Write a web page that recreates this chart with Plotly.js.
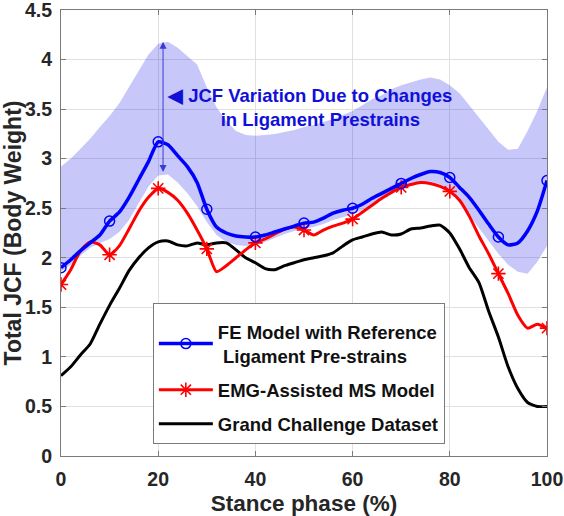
<!DOCTYPE html>
<html><head><meta charset="utf-8">
<script src="https://cdn.plot.ly/plotly-3.0.1.min.js"></script>
<style>html,body{margin:0;padding:0;background:#fff}#chart{width:564px;height:516px}</style>
</head><body><div id="chart"></div>
<script>
// Stance phase (%) sampled every 2 %
const stance = [0,2,4,6,8,10,12,14,16,18,20,22,24,26,28,30,32,34,36,38,40,42,44,46,48,50,52,54,56,58,60,62,64,66,68,70,72,74,76,78,80,82,84,86,88,90,92,94,96,98,100];
// FE Model with Reference Ligament Pre-strains
const feModel = [1.90,1.98,2.07,2.15,2.23,2.37,2.46,2.61,2.79,2.97,3.17,3.14,3.03,2.92,2.76,2.49,2.31,2.25,2.22,2.21,2.21,2.23,2.26,2.29,2.32,2.35,2.36,2.40,2.45,2.48,2.50,2.54,2.60,2.65,2.70,2.75,2.80,2.84,2.87,2.86,2.81,2.71,2.61,2.48,2.34,2.21,2.13,2.15,2.27,2.47,2.78];
// EMG-Assisted MS Model
const emgModel = [1.73,1.88,2.07,2.16,2.13,2.03,2.12,2.29,2.47,2.61,2.70,2.66,2.58,2.45,2.28,2.09,1.86,1.92,2.00,2.08,2.15,2.19,2.24,2.29,2.31,2.28,2.23,2.28,2.32,2.35,2.39,2.46,2.53,2.60,2.66,2.71,2.74,2.76,2.75,2.72,2.67,2.58,2.42,2.22,2.04,1.84,1.64,1.42,1.29,1.33,1.29];
// Grand Challenge Dataset
const grandChallenge = [0.81,0.90,1.02,1.13,1.33,1.52,1.69,1.87,2.00,2.10,2.16,2.17,2.13,2.12,2.15,2.13,2.15,2.15,2.08,2.00,1.95,1.89,1.88,1.92,1.95,1.98,2.00,2.02,2.05,2.12,2.18,2.21,2.24,2.26,2.23,2.24,2.29,2.30,2.32,2.33,2.25,2.09,1.90,1.75,1.46,1.20,0.90,0.68,0.54,0.50,0.50];
// JCF variation due to ligament prestrains (band)
const bandLower = [1.86,1.93,2.02,2.10,2.15,2.19,2.26,2.38,2.55,2.72,2.83,2.84,2.76,2.65,2.52,2.36,2.23,2.16,2.13,2.12,2.13,2.16,2.20,2.24,2.27,2.29,2.31,2.34,2.38,2.41,2.44,2.48,2.53,2.58,2.64,2.70,2.74,2.76,2.77,2.74,2.66,2.56,2.43,2.30,2.16,2.04,1.93,1.86,1.84,1.96,2.12];
const bandUpper = [2.92,3.00,3.10,3.20,3.32,3.43,3.56,3.72,3.88,4.05,4.16,4.18,4.12,4.03,3.95,3.72,3.52,3.38,3.28,3.24,3.23,3.24,3.25,3.27,3.29,3.32,3.34,3.37,3.40,3.44,3.48,3.54,3.60,3.64,3.70,3.74,3.77,3.80,3.82,3.80,3.74,3.66,3.54,3.42,3.29,3.17,3.09,3.10,3.28,3.48,3.72];
const xTicks = [0,20,40,60,80,100];
const yTicks = [0,0.5,1,1.5,2,2.5,3,3.5,4,4.5];
const seriesNames = ['FE Model with Reference<br> Ligament Pre-strains','EMG-Assisted MS Model','Grand Challenge Dataset'];
const markerStep = 10;
const arrowX = 21, arrowLow = 2.85, arrowHigh = 4.18;
const noteText = '\u25C0 JCF Variation Due to Changes<br>\u00a0\u00a0\u00a0\u00a0in Ligament Prestrains';
const noteX = 51.2, noteY = 3.52;

const pick = arr => arr.filter((v, i) => stance[i] % markerStep === 0);
const markX = pick(stance);

const FONT = 'Liberation Sans, Arial, Helvetica, sans-serif';
const BLUE = '#0000ff', RED = '#ff0000', BLACK = '#000000';

const traces = [
  {x: stance, y: bandLower, mode: 'lines', line: {width: 0, color: 'rgba(0,0,0,0)'}, showlegend: false, hoverinfo: 'skip'},
  {x: stance, y: bandUpper, mode: 'lines', fill: 'tonexty', fillcolor: 'rgba(0,0,230,0.22)', line: {width: 0, color: 'rgba(0,0,0,0)'}, showlegend: false, hoverinfo: 'skip'},
  {x: stance, y: grandChallenge, mode: 'lines', name: seriesNames[2], line: {color: BLACK, width: 3, shape: 'spline', smoothing: 0.6}, legendrank: 3, legendgroup: 'g3'},
  {x: stance, y: emgModel, mode: 'lines', line: {color: RED, width: 3, shape: 'spline', smoothing: 0.6}, showlegend: false},
  {x: markX, y: pick(emgModel), mode: 'markers', marker: {symbol: 'asterisk-open', size: 12, color: RED, line: {color: RED, width: 1.6}}, showlegend: false},
  {x: stance, y: feModel, mode: 'lines', line: {color: BLUE, width: 3.5, shape: 'spline', smoothing: 0.6}, showlegend: false},
  {x: markX, y: pick(feModel), mode: 'markers', marker: {symbol: 'circle-open', size: 10, color: BLUE, line: {color: BLUE, width: 1.5}}, showlegend: false},
  {x: [null], y: [null], mode: 'lines+markers', name: seriesNames[0], line: {color: BLUE, width: 3.5}, marker: {symbol: 'circle-open', size: 10, color: BLUE, line: {color: BLUE, width: 1.5}}, legendrank: 1, legendgroup: 'g1'},
  {x: [null], y: [null], mode: 'lines+markers', name: seriesNames[1], line: {color: RED, width: 3}, marker: {symbol: 'asterisk-open', size: 12, color: RED, line: {color: RED, width: 1.6}}, legendrank: 2, legendgroup: 'g2'}
];

const axisCommon = {
  showline: true, linecolor: '#7a7a7a', linewidth: 1, mirror: 'ticks',
  ticks: 'inside', ticklen: 5, tickcolor: '#7a7a7a', tickwidth: 1,
  showgrid: true, gridcolor: '#e0e0e0', gridwidth: 1, zeroline: false,
  ticklabeloverflow: 'allow',
  tickfont: {family: FONT, size: 19.5, color: '#262626', weight: 'bold'}
};

const layout = {
  width: 564, height: 516,
  margin: {l: 61, r: 17, t: 10, b: 60},
  paper_bgcolor: '#ffffff', plot_bgcolor: '#ffffff',
  showlegend: true,
  xaxis: Object.assign({}, axisCommon, {
    range: [0, 100], tickvals: xTicks, ticktext: xTicks.map(String), ticklabelstandoff: 6,
    title: {text: 'Stance phase (%)', font: {family: FONT, size: 22.5, color: '#262626', weight: 'bold'}, standoff: 9}
  }),
  yaxis: Object.assign({}, axisCommon, {
    range: [0, 4.5], tickvals: yTicks, ticktext: yTicks.map(String), ticklabelstandoff: 4,
    title: {text: 'Total JCF (Body Weight)', font: {family: FONT, size: 23, color: '#262626', weight: 'bold'}, standoff: 2}
  }),
  legend: {
    x: 0.189, y: 0.027, xanchor: 'left', yanchor: 'bottom',
    bgcolor: '#ffffff', bordercolor: '#7a7a7a', borderwidth: 1,
    font: {family: FONT, size: 18.5, color: '#111111', weight: 'bold'},
    title: {text: '\u00a0', font: {family: FONT, size: 7}},
    itemwidth: 54, tracegroupgap: 7, traceorder: 'grouped'
  },
  annotations: [
    {x: arrowX, y: arrowHigh, ax: arrowX, ay: arrowLow, xref: 'x', yref: 'y', axref: 'x', ayref: 'y',
     text: '', showarrow: true, arrowhead: 2, arrowside: 'end+start', arrowsize: 1.4, arrowwidth: 1, arrowcolor: '#3a3ad8'},
    {x: noteX, y: noteY, xref: 'x', yref: 'y', text: noteText, showarrow: false, align: 'center',
     font: {family: FONT, size: 18.5, color: '#1010d8', weight: 'bold'}}
  ]
};

Plotly.newPlot('chart', traces, layout, {displayModeBar: false, staticPlot: true});
</script></body></html>
